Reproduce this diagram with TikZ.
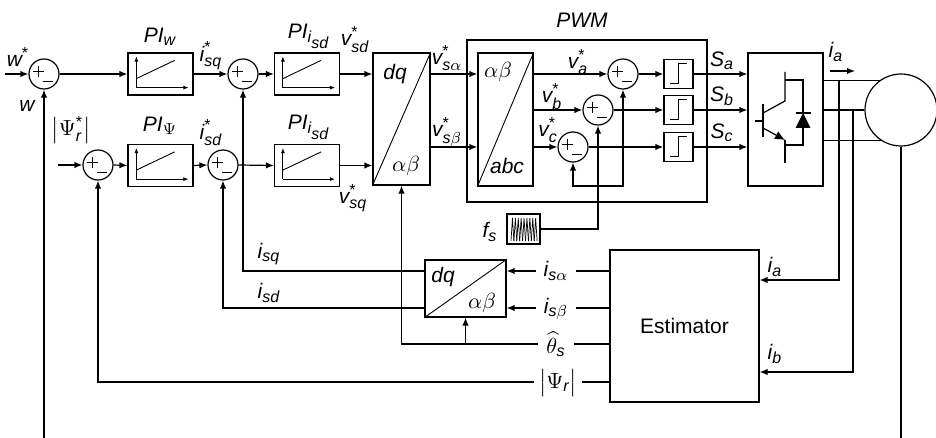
\documentclass[tikz,border=0pt]{standalone}
\usepackage{amsmath}
\usepackage[no-math]{fontspec}
\setmainfont{Liberation Sans}
\DeclareMathSizes{10.5}{10.5}{8}{7}
\usetikzlibrary{arrows.meta}

\newcommand{\vi}[1]{\textit{#1}}

\begin{document}
\begin{tikzpicture}[x=0.5pt, y=-0.5pt, line width=0.6pt,
  font=\fontsize{10.5}{12}\selectfont, >={Latex[length=4pt,width=3.2pt]},
  sumj/.style={circle,draw,minimum size=15pt,inner sep=0pt},
  blk/.style={draw,inner sep=0pt},
  piblk/.style={blk,minimum width=32.5pt,minimum height=21pt},
  relay/.style={blk,minimum size=14.5pt},
  lbl/.style={inner sep=0.5pt},
  gap/.style={fill=white,inner xsep=4pt,inner ysep=0pt},
  tip/.style={-{Latex[length=2.6pt,width=2pt]},line width=0.45pt},
  sign/.style={line width=0.5pt}]

\useasboundingbox (0,0) rectangle (936,438);

%outer loops
\node[sumj] (sumw) at (44,74) {};
\node[piblk] (piw) at (160.5,74) {};
\node[sumj] (sumq) at (243,74) {};
\node[piblk] (piq) at (307,74) {};
\node[sumj] (sumf) at (98,165) {};
\node[piblk] (pif) at (160.5,165.5) {};
\node[sumj] (sumd) at (223,165) {};
\node[piblk] (pid) at (307,165.5) {};

%transformations
\node[blk,minimum width=28.5pt,minimum height=66pt] (park) at (401.5,119) {};
\draw[line width=0.45pt] (park.south west) -- (park.north east);
\node[blk,minimum width=40.5pt,minimum height=28.5pt] (ipark) at (465.5,288.5) {};
\draw[line width=0.45pt] (ipark.south west) -- (ipark.north east);

%PWM
\node[blk,minimum width=120pt,minimum height=81pt] (pwm) at (587,121) {};
\node[blk,minimum width=27.5pt,minimum height=66.5pt] (abc) at (505.5,119.5) {};
\draw[line width=0.45pt] (abc.south west) -- (abc.north east);
\node[sumj] (suma) at (623,74) {};
\node[sumj] (sumb) at (598,110) {};
\node[sumj] (sumc) at (573,147) {};
\node[relay] (rla) at (678.5,74) {};
\node[relay] (rlb) at (678.5,110) {};
\node[relay] (rlc) at (678.5,147) {};
\node[blk,minimum width=16.5pt,minimum height=15pt] (fs) at (523.5,229) {};

\node[blk,minimum width=37.5pt,minimum height=66.5pt] (inv) at (785.5,119.5) {};
\node[circle,draw,minimum size=36pt,inner sep=0pt] (mot) at (901,110) {};
\node[blk,minimum width=74.5pt,minimum height=76pt] (est) at (684.5,326) {Estimator};

%block symbols
\foreach \b in {piw,piq,pif,pid}{
  \draw[tip] ([shift={(9,-8)}]\b.south west) -- ([shift={(9,4)}]\b.north west);
  \draw[tip] ([shift={(9,-8)}]\b.south west) -- ([shift={(-5,-8)}]\b.south east);
  \draw[line width=0.45pt] ([shift={(9,-17)}]\b.south west) -- ([shift={(-19,8)}]\b.north east);
}
\foreach \s in {sumw,sumq,sumf,sumd,suma,sumb,sumc}{
  \draw[sign] ([shift={(-11,-2.5)}]\s.center) -- ([shift={(-0.5,-2.5)}]\s.center);
  \draw[sign] ([shift={(-5.75,-7.75)}]\s.center) -- ([shift={(-5.75,2.75)}]\s.center);
  \draw[sign] ([shift={(-1,7.5)}]\s.center) -- ([shift={(8.5,7.5)}]\s.center);
}
\foreach \r in {rla,rlb,rlc}{
  \draw[sign] ([shift={(7,-6)}]\r.south west) -- ([shift={(0,-6)}]\r.south)
    -- ([shift={(0,5)}]\r.north) -- ([shift={(-7,5)}]\r.north east);
}
\foreach \k in {0,...,8}
  \draw[line width=0.35pt] (511+2.9*\k,241) -- (512.45+2.9*\k,218) -- (513.9+2.9*\k,241);

%inverter leg
\begin{scope}[shift={(inv.center)}]
  \draw (-22.5,-15.5) -- (-22.5,17.5);
  \draw (-30.5,1.5) -- (-22.5,1.5);
  \draw (-22.5,-6.5) -- (-0.5,-18.5) -- (-0.5,-47.5);
  \draw[-{Latex[length=5pt,width=4.4pt]}] (-22.5,8.5) -- (-0.5,20.5);
  \draw (-0.5,20.5) -- (-0.5,43.5);
  \draw (-0.5,-39.5) -- (17.5,-39.5) -- (17.5,-6.5);
  \draw (-0.5,25.5) -- (17.5,25.5) -- (17.5,8.5);
  \fill (17.5,-6.5) -- (10,8.5) -- (25,8.5) -- cycle;
  \draw (10,-6.5) -- (25,-6.5);
\end{scope}

%signal paths
\coordinate (win) at (5,74);
\coordinate (fin) at (58,165);
\draw[->] (win) -- (sumw.west);
\draw[->] (sumw.east) -- (piw.west);
\draw[->] (piw.east) -- (sumq.west);
\draw[->] (sumq.east) -- (piq.west);
\draw[->] (piq.east) -- (park.west |- piq.east);
\draw[->] (fin) -- (sumf.west);
\draw[->] (sumf.east) -- (pif.west);
\draw[->] (pif.east) -- (sumd.west);
\draw[->] (sumd.east) -- (pid.west);
\draw[->] (pid.east) -- (park.west |- pid.east);
\draw[->] (park.east |- piq.east) -- (abc.west |- piq.east);
\draw[->] (park.east |- 0,147) -- (abc.west |- 0,147);
\draw[->] (abc.east |- suma) -- (suma.west);
\draw[->] (abc.east |- sumb) -- (sumb.west);
\draw[->] (abc.east |- sumc) -- (sumc.west);
\draw[->] (suma.east) -- (rla.west);
\draw[->] (sumb.east) -- (rlb.west);
\draw[->] (sumc.east) -- (rlc.west);
\draw[->] (rla.east) -- (inv.west |- rla.east);
\draw[->] (rlb.east) -- (inv.west |- rlb.east);
\draw[->] (rlc.east) -- (inv.west |- rlc.east);

%carrier
\coordinate (cbus) at (598,186);
\draw[->] (fs.east) -| (sumb.south);
\draw[->] (cbus) -| (suma.south);
\draw[->] (cbus) -| (sumc.south);

%machine side
\draw (inv.east |- mot.126) -- (mot.126);
\draw (inv.east |- mot.west) -- (mot.west);
\draw (inv.east |- mot.236) -- (mot.236);
\coordinate (iaa) at (830,71);
\coordinate (iab) at (855,71);
\draw[->] (iaa) -- (iab);
\coordinate (sa) at (839,81);
\coordinate (sb) at (853,110);
\draw[->] (sa) |- (est.east |- 0,280);
\draw[->] (sb) |- (est.east |- 0,372);
\coordinate (shaft) at (901,438);
\draw (mot.south) -- (shaft);
\coordinate (wfb) at (44,438);
\draw[->] (wfb) -- (sumw.south);

%feedback
\draw[->] (est.west |- 0,271) -- (ipark.east |- 0,271);
\draw[->] (est.west |- 0,308) -- (ipark.east |- 0,308);
\draw[->] (est.west |- 0,344) -| (park.south);
\draw[->] (ipark.south |- 0,344) -- (ipark.south);
\draw[->] (est.west |- 0,382) -| (sumf.south);
\draw[->] (ipark.west |- 0,271) -| (sumq.south);
\draw[->] (ipark.west |- 0,308) -| (sumd.south);

%labels
\node[lbl] (lw) at (18,57) {$\vi{w}^{\text{*}}$};
\node[lbl] (lwf) at (27,106) {\itshape w};
\node[lbl] (lpsi) at (71,130) {$\bigl|\Psi^{\text{*}}_{\vi{r}}\bigr|$};
\node[lbl] (lpiw) at (160,37) {$\vi{PI}_{\vi{w}}$};
\node[lbl] (lpif) at (160,126) {$\vi{PI}_{\Psi}$};
\node[lbl] (lpiq) at (309,36) {$\vi{PI}_{\vi{i}_{\scriptstyle\vi{sd}}}$};
\node[lbl] (lpid) at (309,127) {$\vi{PI}_{\vi{i}_{\scriptstyle\vi{sd}}}$};
\node[lbl] (liq) at (211,56) {$\vi{i}^{\text{*}}_{\vi{sq}}$};
\node[lbl] (lid) at (211,133) {$\vi{i}^{\text{*}}_{\vi{sd}}$};
\node[lbl] (lvd) at (355,40) {$\vi{v}^{\text{*}}_{\vi{sd}}$};
\node[lbl] (lvq) at (353,198) {$\vi{v}^{\text{*}}_{\vi{sq}}$};
\node[lbl] (lval) at (447,58) {$\vi{v}^{\text{*}}_{\vi{s}\alpha}$};
\node[lbl] (lvbe) at (447,132) {$\vi{v}^{\text{*}}_{\vi{s}\beta}$};
\node[lbl] (lva) at (578,62) {$\vi{v}^{\text{*}}_{\vi{a}}$};
\node[lbl] (lvb) at (552,97) {$\vi{v}^{\text{*}}_{\vi{b}}$};
\node[lbl] (lvc) at (548,130) {$\vi{v}^{\text{*}}_{\vi{c}}$};
\node[lbl] (lpwm) at (582,20) {\itshape PWM};
\node[lbl] (ldq) at (395,74) {\itshape dq};
\node[lbl] (lab) at (406,166) {$\alpha\beta$};
\node[lbl] (lab2) at (498,72) {$\alpha\beta$};
\node[lbl] (labc) at (507,166) {\itshape abc};
\node[lbl] (ldq2) at (443,277) {\itshape dq};
\node[lbl] (lab3) at (482,303) {$\alpha\beta$};
\node[lbl] (lsa) at (722,61) {$\vi{S}_{\vi{a}}$};
\node[lbl] (lsb) at (722,96) {$\vi{S}_{\vi{b}}$};
\node[lbl] (lsc) at (722,133) {$\vi{S}_{\vi{c}}$};
\node[lbl] (lia) at (836,52) {$\vi{i}_{\vi{a}}$};
\node[lbl] (lia2) at (775,267) {$\vi{i}_{\vi{a}}$};
\node[lbl] (lib) at (775,354) {$\vi{i}_{\vi{b}}$};
\node[lbl] (lfs) at (490,232) {$\vi{f}_{\vi{s}}$};
\node[lbl] (lisq) at (269,254) {$\vi{i}_{\vi{sq}}$};
\node[lbl] (lisd) at (269,293) {$\vi{i}_{\vi{sd}}$};
\node[lbl,gap] (lisa) at (556,271) {$\vi{i}_{\vi{s}\alpha}$};
\node[lbl,gap] (lisb) at (556,309) {$\vi{i}_{\vi{s}\beta}$};
\node[lbl,gap] (lth) at (556,344) {$\widehat{\theta}_{\vi{s}}$};
\node[lbl,gap,inner xsep=2.5pt] (lpr) at (558,383) {$\bigl|\Psi_{\vi{r}}\bigr|$};

\end{tikzpicture}
\end{document}
